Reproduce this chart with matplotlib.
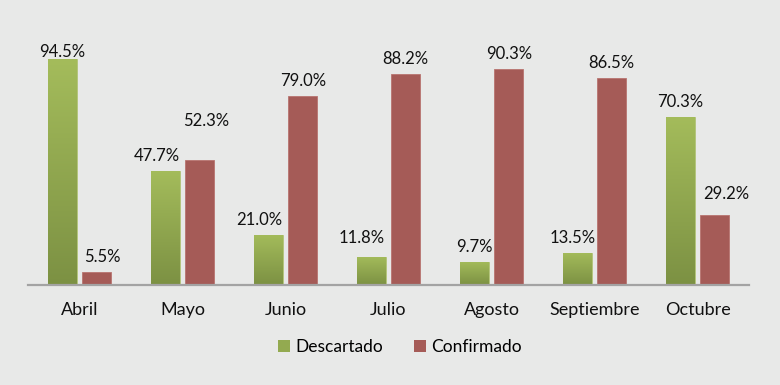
import numpy as np
import matplotlib.pyplot as plt
from matplotlib.colors import LinearSegmentedColormap
from matplotlib.patches import Patch

meses = ['Abril', 'Mayo', 'Junio', 'Julio', 'Agosto', 'Septiembre', 'Octubre']
descartado = [94.5, 47.7, 21.0, 11.8, 9.7, 13.5, 70.3]
confirmado = [5.5, 52.3, 79.0, 88.2, 90.3, 86.5, 29.2]

BG = '#E8E9E8'
GREEN_TOP = '#A4BC5B'
GREEN_BOT = '#7C9143'
RED = '#A55B57'

plt.rcParams['font.family'] = ['Lato', 'DejaVu Sans']

fig = plt.figure(figsize=(7.8, 3.85), dpi=100, facecolor=BG)
ax = fig.add_axes([28 / 780, 100 / 385, 721 / 780, 239 / 385])
ax.set_facecolor(BG)

x = np.arange(len(meses))
w = 0.28
off = 0.168

g_bars = ax.bar(x - off, descartado, w, color=GREEN_BOT, edgecolor='#B5C77A', linewidth=0.6, zorder=2)
r_bars = ax.bar(x + off, confirmado, w, color=RED, edgecolor='#B87470', linewidth=0.6, zorder=2)

# vertical gradient on the green bars (lighter on top)
cmap = LinearSegmentedColormap.from_list('verde', [GREEN_BOT, GREEN_TOP])
grad = np.linspace(0, 1, 256).reshape(-1, 1)
for b in g_bars:
    x0, y0 = b.get_x(), b.get_y()
    im = ax.imshow(grad, cmap=cmap, origin='lower', aspect='auto',
                   extent=[x0, x0 + b.get_width(), y0, y0 + b.get_height()], zorder=2.5)
    im.set_clip_path(b)

ax.set_xlim(-0.5, len(meses) - 0.5)
ax.set_ylim(0, 100)

# etiquetas de datos (algunas movidas a mano, como en el original), nudges in px
nudge_g = {0: (0, -7.5), 1: (-8, 0), 2: (-9, 0), 3: (-10, 4), 5: (-5, 0)}
nudge_r = {0: (6, 0), 1: (6.5, 24), 6: (11.5, 6)}
px = 0.72  # points per pixel at 100 dpi
for i, v in enumerate(descartado):
    dx, dy = nudge_g.get(i, (0, 0))
    ax.annotate(f'{v:.1f}%', (x[i] - off, v), xytext=(dx * px, (10 + dy) * px),
                textcoords='offset points', ha='center', va='baseline', fontsize=12, color='#111111')
for i, v in enumerate(confirmado):
    dx, dy = nudge_r.get(i, (0, 0))
    ax.annotate(f'{v:.1f}%', (x[i] + off, v), xytext=(dx * px, (10 + dy) * px),
                textcoords='offset points', ha='center', va='baseline', fontsize=12, color='#111111')

for s in ['top', 'right', 'left']:
    ax.spines[s].set_visible(False)
ax.spines['bottom'].set_color('#A3A3A3')
ax.spines['bottom'].set_linewidth(1.6)
ax.set_yticks([])
ax.set_xticks(x)
ax.set_xticklabels(meses, fontsize=13, color='#111111')
ax.tick_params(axis='x', length=0, pad=12)

handles = [Patch(facecolor='#93AA50', edgecolor='none', label='Descartado'),
           Patch(facecolor=RED, edgecolor='none', label='Confirmado')]
fig.legend(handles=handles, loc='center', bbox_to_anchor=(400 / 780, 1 - 347 / 385),
           ncol=2, frameon=False, fontsize=12.5, handlelength=0.7, handleheight=0.7,
           handletextpad=0.3, columnspacing=1.8)

fig.savefig('out.png', dpi=100, facecolor=BG)
